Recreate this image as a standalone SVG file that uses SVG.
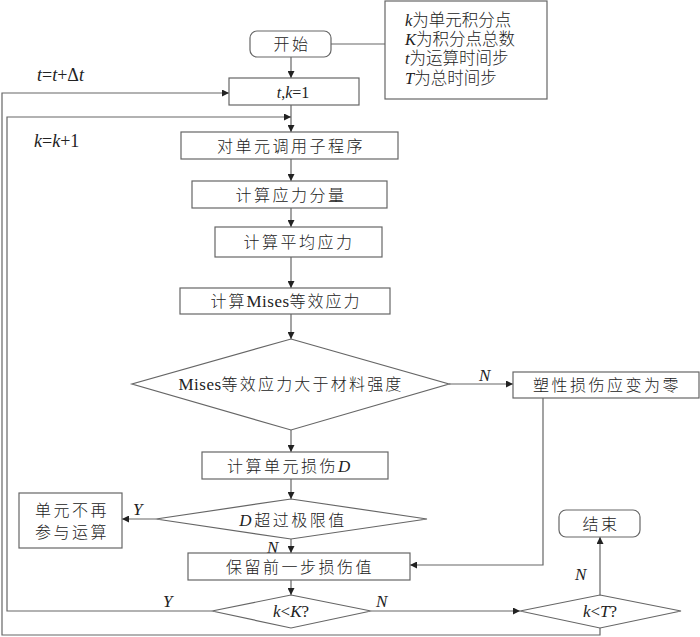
<svg xmlns="http://www.w3.org/2000/svg" width="700" height="637" viewBox="0 0 700 637">
<defs>
<marker id="arr" viewBox="0 0 10 10" refX="10" refY="5" markerWidth="9" markerHeight="7" markerUnits="userSpaceOnUse" orient="auto">
<path d="M0,0 L10,5 L0,10 Z" fill="#222"/>
</marker>
<style>
.box{fill:#fff;stroke:#666;stroke-width:1.2}
.ln{fill:none;stroke:#666;stroke-width:1.2}
.t{font-family:"Liberation Serif","Noto Sans CJK SC",serif;font-size:16px;font-weight:300;fill:#222;text-anchor:middle;dominant-baseline:central;letter-spacing:2.5px}
.tl{font-family:"Liberation Serif","Noto Sans CJK SC",serif;font-size:16.5px;font-weight:300;fill:#222}
.v{font-family:"Liberation Serif",serif;font-style:italic;font-size:17px;fill:#222}
.big{font-size:18px}
.ns{letter-spacing:0}
</style>
</defs>
<rect width="700" height="637" fill="#fff"/>
<g id="connectors">
<line class="ln" x1="331" y1="44" x2="385" y2="44"/>
<line class="ln" x1="291" y1="57" x2="291" y2="78" marker-end="url(#arr)"/>
<line class="ln" x1="291" y1="105" x2="291" y2="132" marker-end="url(#arr)"/>
<line class="ln" x1="291" y1="159" x2="291" y2="181" marker-end="url(#arr)"/>
<line class="ln" x1="291" y1="208" x2="291" y2="227" marker-end="url(#arr)"/>
<line class="ln" x1="291" y1="257" x2="291" y2="288" marker-end="url(#arr)"/>
<line class="ln" x1="291" y1="314" x2="291" y2="339" marker-end="url(#arr)"/>
<line class="ln" x1="291" y1="430" x2="291" y2="452" marker-end="url(#arr)"/>
<line class="ln" x1="291" y1="479" x2="291" y2="499" marker-end="url(#arr)"/>
<line class="ln" x1="291" y1="539" x2="291" y2="553" marker-end="url(#arr)"/>
<line class="ln" x1="291" y1="580" x2="291" y2="595" marker-end="url(#arr)"/>
<line class="ln" x1="449" y1="384" x2="513" y2="384" marker-end="url(#arr)"/>
<polyline class="ln" points="543,398 543,565 410,565" marker-end="url(#arr)"/>
<line class="ln" x1="156" y1="519" x2="122" y2="519" marker-end="url(#arr)"/>
<line class="ln" x1="371" y1="611" x2="520" y2="611" marker-end="url(#arr)"/>
<line class="ln" x1="600" y1="595" x2="600" y2="537" marker-end="url(#arr)"/>
<polyline class="ln" points="212,611 7,611 7,117 291,117" marker-end="url(#arr)"/>
<polyline class="ln" points="600,628 600,635 2,635 2,93 229,93" marker-end="url(#arr)"/>
</g>
<g id="labels">
<text class="v big" x="37" y="81">t<tspan font-style="normal">=</tspan>t<tspan font-style="normal">+Δ</tspan>t</text>
<text class="v big" x="34" y="147">k<tspan font-style="normal">=</tspan>k<tspan font-style="normal">+1</tspan></text>
<text class="v" x="479" y="381">N</text>
<text class="v" x="133" y="515">Y</text>
<text class="v" x="267" y="553">N</text>
<text class="v" x="163" y="607">Y</text>
<text class="v" x="376" y="607">N</text>
<text class="v" x="575" y="580">N</text>
</g>
<g id="start">
<rect class="box" x="250" y="31" width="81" height="26" rx="7"/>
<text class="t" x="292" y="44">开始</text>
</g>
<g id="legend">
<rect class="box" x="385" y="1" width="162" height="98"/>
<text class="tl" x="405" y="26"><tspan font-style="italic" font-weight="400">k</tspan>为单元积分点</text>
<text class="tl" x="405" y="45"><tspan font-style="italic" font-weight="400">K</tspan>为积分点总数</text>
<text class="tl" x="405" y="64"><tspan font-style="italic" font-weight="400">t</tspan>为运算时间步</text>
<text class="tl" x="405" y="84"><tspan font-style="italic" font-weight="400">T</tspan>为总时间步</text>
</g>
<g id="init">
<rect class="box" x="229" y="78" width="130" height="27"/>
<text class="t ns" x="293" y="92" font-size="19" font-weight="400"><tspan font-style="italic">t</tspan>,<tspan font-style="italic">k</tspan>=1</text>
</g>
<g id="sub">
<rect class="box" x="181" y="132" width="217" height="27"/>
<text class="t" x="291" y="146">对单元调用子程序</text>
</g>
<g id="comp">
<rect class="box" x="192" y="181" width="195" height="27"/>
<text class="t" x="291" y="195">计算应力分量</text>
</g>
<g id="avg">
<rect class="box" x="215" y="227" width="167" height="30"/>
<text class="t" x="299" y="242">计算平均应力</text>
</g>
<g id="mises">
<rect class="box" x="180" y="288" width="210" height="26"/>
<text class="t" x="286" y="301" style="letter-spacing:2px">计算<tspan style="letter-spacing:0.5px" font-weight="400" font-size="17">Mises</tspan>等效应力</text>
</g>
<g id="dec1">
<polygon class="box" points="291,339 449,384 291,430 132,384"/>
<text class="t" x="291" y="384" style="letter-spacing:2.2px"><tspan style="letter-spacing:0.5px" font-weight="400" font-size="17">Mises</tspan>等效应力大于材料强度</text>
</g>
<g id="zero">
<rect class="box" x="513" y="372" width="186" height="26"/>
<text class="t" x="607" y="385">塑性损伤应变为零</text>
</g>
<g id="damage">
<rect class="box" x="202" y="452" width="186" height="27"/>
<text class="t" x="290" y="466">计算单元损伤<tspan font-style="italic" font-weight="400" font-size="17">D</tspan></text>
</g>
<g id="dec2">
<polygon class="box" points="291,499 427,519 291,539 156,519"/>
<text class="t" x="293" y="520"><tspan font-style="italic" font-weight="400" font-size="17">D</tspan>超过极限值</text>
</g>
<g id="remove">
<rect class="box" x="19" y="493" width="103" height="55"/>
<text class="t" x="72" y="510">单元不再</text>
<text class="t" x="72" y="532">参与运算</text>
</g>
<g id="keep">
<rect class="box" x="188" y="553" width="222" height="27"/>
<text class="t" x="300" y="567">保留前一步损伤值</text>
</g>
<g id="dec3">
<polygon class="box" points="291,595 371,611 291,628 212,611"/>
<text class="v" x="291" y="617" text-anchor="middle">k<tspan font-style="normal">&lt;</tspan>K<tspan font-style="normal">?</tspan></text>
</g>
<g id="dec4">
<polygon class="box" points="600,595 681,611 600,628 520,611"/>
<text class="v" x="600" y="617" text-anchor="middle">k<tspan font-style="normal">&lt;</tspan>T<tspan font-style="normal">?</tspan></text>
</g>
<g id="end">
<rect class="box" x="559" y="510" width="81" height="27" rx="7"/>
<text class="t" x="601" y="524">结束</text>
</g>
</svg>
